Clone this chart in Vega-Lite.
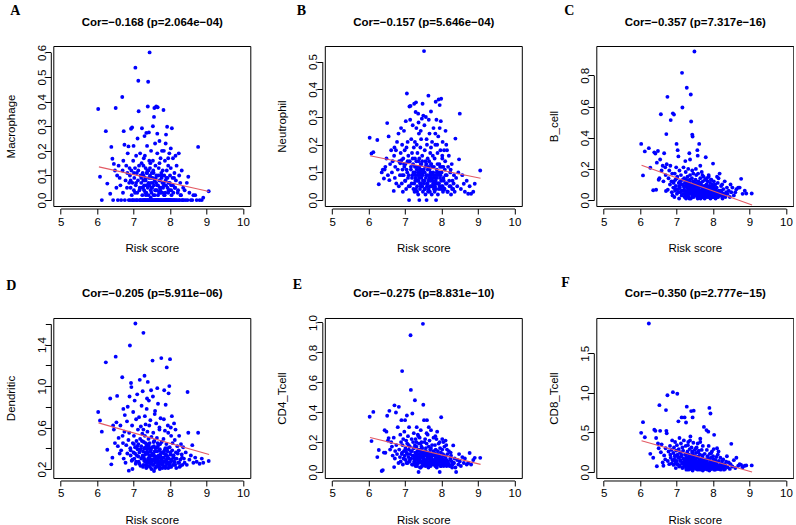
{
"$schema": "https://vega.github.io/schema/vega-lite/v6.json",
"padding": {"left": 4.3, "top": 3, "right": 0, "bottom": 0},
"background": "white",
"columns": 3,
"bounds": "flush",
"spacing": {"row": 112, "column": 74.5},
"config": {
  "font": "Liberation Sans",
  "view": {"stroke": "#000000", "strokeWidth": 1},
  "axis": {"grid": false, "domainColor": "#000000", "tickColor": "#000000", "labelColor": "#000000", "titleColor": "#000000", "labelFont": "Liberation Sans", "titleFont": "Liberation Sans", "labelFontSize": 11.5, "titleFontSize": 11.5, "titleFontWeight": "normal", "tickSize": 5.5, "offset": 2.5, "labelFlush": false, "labelOverlap": false, "domainWidth": 1, "tickWidth": 1},
  "axisBottom": {"labelPadding": 2, "titlePadding": 15, "domainDash": [0, 7.3, 182.4, 1000]},
  "axisLeft": {"labelAngle": -90, "labelAlign": "center", "labelBaseline": "alphabetic", "labelPadding": 0, "titlePadding": 20},
  "title": {"font": "Liberation Serif", "fontSize": 14, "fontWeight": "bold", "color": "#000000", "anchor": "start", "frame": "group", "offset": 0, "baseline": "alphabetic"}
},
"data": {"values": [
{"risk":6.03,"mac":0.37,"neu":0.225,"bcell":0.36,"dend":0.75,"cd4":0.37,"cd8":0.495},
{"risk":6.08,"mac":0.095,"neu":0.168,"bcell":0.158,"dend":0.668,"cd4":0.207,"cd8":0.63},
{"risk":6.13,"mac":0,"neu":0.173,"bcell":0.312,"dend":0.56,"cd4":0.402,"cd8":0.44},
{"risk":6.24,"mac":0.28,"neu":0.217,"bcell":0.333,"dend":1.229,"cd4":0.1,"cd8":1.875},
{"risk":6.28,"mac":0.067,"neu":0.057,"bcell":0.207,"dend":0.386,"cd4":0.147,"cd8":0.23},
{"risk":6.36,"mac":0.026,"neu":0.1,"bcell":0.063,"dend":0.88,"cd4":0.007,"cd8":0.18},
{"risk":6.39,"mac":0.216,"neu":0.11,"bcell":0.306,"dend":0.245,"cd4":0.013,"cd8":0.535},
{"risk":6.42,"mac":0.168,"neu":0.078,"bcell":0.298,"dend":0.309,"cd4":0.13,"cd8":0.52},
{"risk":6.44,"mac":0,"neu":0.11,"bcell":0.066,"dend":0.62,"cd4":0.28,"cd8":0.43},
{"risk":6.46,"mac":0.147,"neu":0.12,"bcell":0.24,"dend":0.58,"cd4":0.129,"cd8":0.074},
{"risk":6.49,"mac":0.12,"neu":0.15,"bcell":0.315,"dend":0.45,"cd4":0.27,"cd8":0.36},
{"risk":6.51,"mac":0.374,"neu":0.278,"bcell":0.13,"dend":1.284,"cd4":0.376,"cd8":0.3},
{"risk":6.53,"mac":0.05,"neu":0.09,"bcell":0.14,"dend":0.65,"cd4":0.21,"cd8":0.845},
{"risk":6.55,"mac":0.1,"neu":0.23,"bcell":0.26,"dend":0.905,"cd4":0.227,"cd8":0.52},
{"risk":6.57,"mac":0,"neu":0.072,"bcell":0.55,"dend":0.42,"cd4":0.409,"cd8":0.25},
{"risk":6.59,"mac":0.14,"neu":0.13,"bcell":0.19,"dend":0.5,"cd4":0.15,"cd8":0.35},
{"risk":6.62,"mac":0.09,"neu":0.18,"bcell":0.22,"dend":0.35,"cd4":0.2,"cd8":0.12},
{"risk":6.64,"mac":0.06,"neu":0.1,"bcell":0.12,"dend":0.62,"cd4":0.17,"cd8":0.08},
{"risk":6.66,"mac":0,"neu":0.14,"bcell":0.3,"dend":0.38,"cd4":0.11,"cd8":0.21},
{"risk":6.69,"mac":0.419,"neu":0.033,"bcell":0.21,"dend":1.085,"cd4":0.23,"cd8":0.16},
{"risk":6.7,"mac":0.12,"neu":0.16,"bcell":0.16,"dend":0.52,"cd4":0.033,"cd8":0.3},
{"risk":6.71,"mac":0.03,"neu":0.19,"bcell":0.058,"dend":0.45,"cd4":0.446,"cd8":0.782},
{"risk":6.72,"mac":0.16,"neu":0.08,"bcell":0.423,"dend":0.78,"cd4":0.09,"cd8":0.52},
{"risk":6.73,"mac":0.28,"neu":0.12,"bcell":0.23,"dend":0.3,"cd4":0.14,"cd8":0.49},
{"risk":6.75,"mac":0.225,"neu":0.18,"bcell":0.662,"dend":0.56,"cd4":0.398,"cd8":0.97},
{"risk":6.76,"mac":0,"neu":0.06,"bcell":0.066,"dend":0.72,"cd4":0.18,"cd8":0.14},
{"risk":6.78,"mac":0.08,"neu":0.21,"bcell":0.14,"dend":0.26,"cd4":0.12,"cd8":0.26},
{"risk":6.8,"mac":0.14,"neu":0.11,"bcell":0.19,"dend":0.43,"cd4":0.3,"cd8":0.1},
{"risk":6.82,"mac":0.05,"neu":0.24,"bcell":0.1,"dend":0.66,"cd4":0.06,"cd8":0.33},
{"risk":6.83,"mac":0.11,"neu":0.05,"bcell":0.22,"dend":0.35,"cd4":0.436,"cd8":0.22},
{"risk":6.84,"mac":0.19,"neu":0.14,"bcell":0.513,"dend":0.8,"cd4":0.15,"cd8":0.18},
{"risk":6.86,"mac":0.218,"neu":0.09,"bcell":0.12,"dend":0.48,"cd4":0.1,"cd8":0.28},
{"risk":6.87,"mac":0,"neu":0.133,"bcell":0.05,"dend":0.184,"cd4":0.25,"cd8":0.11},
{"risk":6.88,"mac":0.07,"neu":0.17,"bcell":0.17,"dend":0.55,"cd4":0.07,"cd8":0.4},
{"risk":6.89,"mac":0.13,"neu":0.26,"bcell":0.03,"dend":0.9,"cd4":0.2,"cd8":0.15},
{"risk":6.9,"mac":0.1,"neu":0.144,"bcell":0.556,"dend":1.392,"cd4":0.347,"cd8":1.009},
{"risk":6.91,"mac":0,"neu":0.06,"bcell":0.08,"dend":0.4,"cd4":0.12,"cd8":0.24},
{"risk":6.92,"mac":0.05,"neu":0.2,"bcell":0.12,"dend":0.33,"cd4":0.675,"cd8":0.09},
{"risk":6.93,"mac":0.29,"neu":0.11,"bcell":0.548,"dend":1.03,"cd4":0.18,"cd8":0.31},
{"risk":6.94,"mac":0.12,"neu":0.03,"bcell":0.02,"dend":0.99,"cd4":0.05,"cd8":0.16},
{"risk":6.95,"mac":0.02,"neu":0.15,"bcell":0.17,"dend":0.28,"cd4":0.22,"cd8":0.2},
{"risk":6.96,"mac":0.295,"neu":0.09,"bcell":0.06,"dend":0.62,"cd4":0.09,"cd8":0.38},
{"risk":6.97,"mac":0.07,"neu":0.25,"bcell":0.13,"dend":0.2,"cd4":0.14,"cd8":0.12},
{"risk":6.98,"mac":0,"neu":0.12,"bcell":0.09,"dend":0.45,"cd4":0.27,"cd8":0.05},
{"risk":6.99,"mac":0.16,"neu":0.18,"bcell":0.21,"dend":0.75,"cd4":0.11,"cd8":0.27},
{"risk":7.0,"mac":0.22,"neu":0.07,"bcell":0.36,"dend":0.36,"cd4":0.347,"cd8":0.14},
{"risk":7.01,"mac":0.04,"neu":0.13,"bcell":0.04,"dend":0.52,"cd4":0.16,"cd8":0.34},
{"risk":7.02,"mac":0.09,"neu":0.285,"bcell":0.15,"dend":0.3,"cd4":0.08,"cd8":0.988},
{"risk":7.03,"mac":0,"neu":0.04,"bcell":0.32,"dend":0.86,"cd4":0.21,"cd8":0.22},
{"risk":7.04,"mac":0.13,"neu":0.19,"bcell":0.07,"dend":0.41,"cd4":0.13,"cd8":0.1},
{"risk":7.05,"mac":0.538,"neu":0.385,"bcell":0.28,"dend":1.604,"cd4":0.378,"cd8":0.64},
{"risk":7.06,"mac":0.06,"neu":0.1,"bcell":0.11,"dend":0.25,"cd4":0.19,"cd8":0.29},
{"risk":7.07,"mac":0.18,"neu":0.21,"bcell":0.01,"dend":0.68,"cd4":0.06,"cd8":0.18},
{"risk":7.08,"mac":0,"neu":0.08,"bcell":0.19,"dend":0.47,"cd4":0.24,"cd8":0.43},
{"risk":7.09,"mac":0.11,"neu":0.16,"bcell":0.08,"dend":0.33,"cd4":0.1,"cd8":0.08},
{"risk":7.1,"mac":0.03,"neu":0.05,"bcell":0.12,"dend":0.92,"cd4":0.15,"cd8":0.25},
{"risk":7.11,"mac":0.25,"neu":0,"bcell":0.05,"dend":0.39,"cd4":0.3,"cd8":0.15},
{"risk":7.12,"mac":0.08,"neu":0.338,"bcell":0.16,"dend":0.58,"cd4":0.07,"cd8":0.36},
{"risk":7.13,"mac":0.485,"neu":0.14,"bcell":0.1,"dend":0.44,"cd4":0.17,"cd8":0.2},
{"risk":7.14,"mac":0.361,"neu":0.29,"bcell":0.03,"dend":0.27,"cd4":0.12,"cd8":0.69},
{"risk":7.15,"mac":0.14,"neu":0.34,"bcell":0.816,"dend":0.7,"cd4":0.915,"cd8":0.11},
{"risk":7.16,"mac":0,"neu":0.11,"bcell":0.594,"dend":0.36,"cd4":0.549,"cd8":0.31},
{"risk":7.17,"mac":0.05,"neu":0.22,"bcell":0.13,"dend":1.06,"cd4":0.09,"cd8":0.06},
{"risk":7.18,"mac":0.19,"neu":0.06,"bcell":0.06,"dend":0.49,"cd4":0.22,"cd8":0.27},
{"risk":7.19,"mac":0.1,"neu":0.17,"bcell":0.21,"dend":0.23,"cd4":0.14,"cd8":0.17},
{"risk":7.2,"mac":0,"neu":0.09,"bcell":0.09,"dend":0.61,"cd4":0.391,"cd8":0.4},
{"risk":7.21,"mac":0.07,"neu":0.27,"bcell":0.14,"dend":0.42,"cd4":0.05,"cd8":0.09},
{"risk":7.22,"mac":0.15,"neu":0.13,"bcell":0.02,"dend":0.81,"cd4":0.2,"cd8":0.69},
{"risk":7.23,"mac":0.292,"neu":0.04,"bcell":0.11,"dend":0.31,"cd4":0.11,"cd8":0.22},
{"risk":7.24,"mac":0.02,"neu":0.19,"bcell":0.25,"dend":0.54,"cd4":0.26,"cd8":0.13},
{"risk":7.25,"mac":0.11,"neu":0.348,"bcell":0.18,"dend":0.95,"cd4":0.16,"cd8":0.33},
{"risk":7.26,"mac":0,"neu":0.1,"bcell":0.05,"dend":0.37,"cd4":0.09,"cd8":0.625},
{"risk":7.27,"mac":0.08,"neu":0.15,"bcell":0.13,"dend":1.514,"cd4":0.48,"cd8":0.19},
{"risk":7.28,"mac":0.17,"neu":0.07,"bcell":0.72,"dend":0.46,"cd4":0.13,"cd8":0.826},
{"risk":7.29,"mac":0.04,"neu":0.318,"bcell":0.08,"dend":0.28,"cd4":0.22,"cd8":0.12},
{"risk":7.3,"mac":0.26,"neu":0.353,"bcell":0.15,"dend":1.1,"cd4":0.06,"cd8":0.26},
{"risk":7.31,"mac":0,"neu":0.12,"bcell":0.03,"dend":0.52,"cd4":0.17,"cd8":0.07},
{"risk":7.32,"mac":0.09,"neu":0.2,"bcell":0.2,"dend":0.34,"cd4":0.3,"cd8":0.38},
{"risk":7.33,"mac":0.13,"neu":0.05,"bcell":0.1,"dend":0.63,"cd4":0.1,"cd8":0.16},
{"risk":7.34,"mac":0.02,"neu":0.17,"bcell":0.06,"dend":0.24,"cd4":0.14,"cd8":0.22},
{"risk":7.35,"mac":0.273,"neu":0.09,"bcell":0.3,"dend":0.42,"cd4":0.25,"cd8":0.1},
{"risk":7.36,"mac":0.06,"neu":0.312,"bcell":0.12,"dend":0.78,"cd4":0.08,"cd8":0.29},
{"risk":7.37,"mac":0,"neu":0.14,"bcell":0.26,"dend":0.39,"cd4":0,"cd8":0.14},
{"risk":7.38,"mac":0.12,"neu":0.24,"bcell":0.04,"dend":0.56,"cd4":0.19,"cd8":0.45},
{"risk":7.39,"mac":0.38,"neu":0,"bcell":0.677,"dend":1.04,"cd4":0.12,"cd8":0.04},
{"risk":7.4,"mac":0.481,"neu":0.11,"bcell":0.504,"dend":0.3,"cd4":0.23,"cd8":0.77},
{"risk":7.41,"mac":0.07,"neu":0.06,"bcell":0.09,"dend":0.49,"cd4":0.07,"cd8":0.31},
{"risk":7.42,"mac":0.275,"neu":0.19,"bcell":0.14,"dend":0.86,"cd4":0.15,"cd8":0.18},
{"risk":7.43,"mac":0,"neu":0.13,"bcell":0.42,"dend":0.33,"cd4":0.28,"cd8":0.24},
{"risk":7.44,"mac":0.6,"neu":0.22,"bcell":0.408,"dend":0.45,"cd4":0.11,"cd8":0.69},
{"risk":7.45,"mac":0.1,"neu":0.08,"bcell":0.07,"dend":0.27,"cd4":0.2,"cd8":0.09},
{"risk":7.46,"mac":0.15,"neu":0.294,"bcell":0.17,"dend":0.67,"cd4":0.06,"cd8":0.37},
{"risk":7.47,"mac":0.04,"neu":0.16,"bcell":0.02,"dend":0.38,"cd4":0.16,"cd8":0.775},
{"risk":7.48,"mac":0.2,"neu":0.348,"bcell":0.11,"dend":0.96,"cd4":0.13,"cd8":0.2},
{"risk":7.49,"mac":0,"neu":0.1,"bcell":0.953,"dend":0.51,"cd4":0.991,"cd8":0.13},
{"risk":7.5,"mac":0.11,"neu":0.305,"bcell":0.06,"dend":0.29,"cd4":0.45,"cd8":0.28},
{"risk":7.26,"mac":0.05,"neu":0.03,"bcell":0.01,"dend":0.22,"cd4":0.05,"cd8":0.05},
{"risk":7.28,"mac":0,"neu":0.09,"bcell":0.1,"dend":0.31,"cd4":0.08,"cd8":0.15},
{"risk":7.3,"mac":0.08,"neu":0.04,"bcell":0.05,"dend":0.4,"cd4":0.11,"cd8":0.09},
{"risk":7.32,"mac":0.03,"neu":0.11,"bcell":0.07,"dend":0.27,"cd4":0.12,"cd8":0.12},
{"risk":7.33,"mac":0,"neu":0.07,"bcell":0.02,"dend":0.36,"cd4":0.04,"cd8":0.03},
{"risk":7.35,"mac":0.06,"neu":0.12,"bcell":0.09,"dend":0.21,"cd4":0.1,"cd8":0.19},
{"risk":7.36,"mac":0.11,"neu":0.02,"bcell":0.13,"dend":0.44,"cd4":0.06,"cd8":0.07},
{"risk":7.38,"mac":0,"neu":0.08,"bcell":0.06,"dend":0.26,"cd4":0.09,"cd8":0.11},
{"risk":7.39,"mac":0.05,"neu":0.15,"bcell":0.01,"dend":0.35,"cd4":0.14,"cd8":0.17},
{"risk":7.41,"mac":0.02,"neu":0.04,"bcell":0.05,"dend":0.23,"cd4":0.03,"cd8":0.06},
{"risk":7.42,"mac":0.09,"neu":0.1,"bcell":0.08,"dend":0.41,"cd4":0.1,"cd8":0.13},
{"risk":7.44,"mac":0,"neu":0.06,"bcell":0.03,"dend":0.3,"cd4":0.07,"cd8":0.02},
{"risk":7.45,"mac":0.13,"neu":0.13,"bcell":0.12,"dend":0.37,"cd4":0.17,"cd8":0.21},
{"risk":7.47,"mac":0.01,"neu":0.05,"bcell":0.04,"dend":0.25,"cd4":0.04,"cd8":0.1},
{"risk":7.48,"mac":0.07,"neu":0.09,"bcell":0.07,"dend":0.33,"cd4":0.12,"cd8":0.08},
{"risk":7.49,"mac":0.03,"neu":0.03,"bcell":0.1,"dend":0.2,"cd4":0.09,"cd8":0.14},
{"risk":7.27,"mac":0.14,"neu":0.21,"bcell":0.04,"dend":0.58,"cd4":0.18,"cd8":0.23},
{"risk":7.31,"mac":0.18,"neu":0.26,"bcell":0.11,"dend":0.71,"cd4":0.2,"cd8":0.34},
{"risk":7.37,"mac":0.22,"neu":0.28,"bcell":0.16,"dend":0.88,"cd4":0.24,"cd8":0.4},
{"risk":7.43,"mac":0.16,"neu":0.25,"bcell":0.19,"dend":0.62,"cd4":0.19,"cd8":0.26},
{"risk":7.51,"mac":0.05,"neu":0.11,"bcell":0.08,"dend":0.41,"cd4":0.1,"cd8":0.16},
{"risk":7.52,"mac":0,"neu":0.538,"bcell":0.13,"dend":1.246,"cd4":0.347,"cd8":0.05},
{"risk":7.53,"mac":0.3,"neu":0.07,"bcell":0.03,"dend":0.28,"cd4":0.14,"cd8":0.24},
{"risk":7.54,"mac":0.12,"neu":0.18,"bcell":0.16,"dend":0.55,"cd4":0.07,"cd8":0.11},
{"risk":7.55,"mac":0.02,"neu":0.04,"bcell":0.06,"dend":0.34,"cd4":0.22,"cd8":0.31},
{"risk":7.56,"mac":0.338,"neu":0.14,"bcell":0.1,"dend":0.18,"cd4":0.12,"cd8":0.08},
{"risk":7.57,"mac":0.374,"neu":0.3,"bcell":0.32,"dend":0.47,"cd4":0.16,"cd8":0.19},
{"risk":7.58,"mac":0.08,"neu":0.09,"bcell":0.285,"dend":0.73,"cd4":0.05,"cd8":0.36},
{"risk":7.59,"mac":0,"neu":0,"bcell":0.02,"dend":0.26,"cd4":0.19,"cd8":0.13},
{"risk":7.6,"mac":0.14,"neu":0.2,"bcell":0.12,"dend":0.4,"cd4":0.347,"cd8":0.06},
{"risk":7.61,"mac":0.04,"neu":0.06,"bcell":0.07,"dend":0.32,"cd4":0.09,"cd8":0.27},
{"risk":7.62,"mac":0.38,"neu":0.15,"bcell":0.36,"dend":0.64,"cd4":0.25,"cd8":0.15},
{"risk":7.63,"mac":0.1,"neu":0.03,"bcell":0.04,"dend":0.22,"cd4":0.13,"cd8":0.04},
{"risk":7.64,"mac":0,"neu":0.377,"bcell":0.09,"dend":0.5,"cd4":0.06,"cd8":0.22},
{"risk":7.65,"mac":0.19,"neu":0.12,"bcell":0.14,"dend":0.37,"cd4":0.17,"cd8":0.42},
{"risk":7.66,"mac":0.377,"neu":0.08,"bcell":0.01,"dend":0.29,"cd4":0.11,"cd8":0.09},
{"risk":7.67,"mac":0.06,"neu":0.24,"bcell":0.11,"dend":0.83,"cd4":0.21,"cd8":0.17},
{"risk":7.68,"mac":0,"neu":0.05,"bcell":0.05,"dend":0.43,"cd4":0.08,"cd8":0.12},
{"risk":7.69,"mac":0.13,"neu":0.17,"bcell":0.18,"dend":0.31,"cd4":0.15,"cd8":0.28},
{"risk":7.7,"mac":0.03,"neu":0.1,"bcell":0.03,"dend":0.24,"cd4":0.04,"cd8":0.05},
{"risk":7.71,"mac":0.24,"neu":0.32,"bcell":0.08,"dend":0.58,"cd4":0.28,"cd8":0.19},
{"risk":7.72,"mac":0.08,"neu":0.13,"bcell":0.12,"dend":0.39,"cd4":0.1,"cd8":0.33},
{"risk":7.73,"mac":0,"neu":0.02,"bcell":0.06,"dend":0.27,"cd4":0.07,"cd8":0.08},
{"risk":7.74,"mac":0.17,"neu":0.21,"bcell":0.15,"dend":0.69,"cd4":0.18,"cd8":0.14},
{"risk":7.75,"mac":0.05,"neu":0.07,"bcell":0.02,"dend":0.35,"cd4":0.12,"cd8":0.57},
{"risk":7.76,"mac":0.11,"neu":0.16,"bcell":0.09,"dend":1.27,"cd4":0.06,"cd8":0.1},
{"risk":7.77,"mac":0,"neu":0.09,"bcell":0.04,"dend":0.46,"cd4":0.14,"cd8":0.23},
{"risk":7.78,"mac":0.2,"neu":0.26,"bcell":0.13,"dend":0.3,"cd4":0.23,"cd8":0.07},
{"risk":7.79,"mac":0.07,"neu":0.04,"bcell":0.07,"dend":0.21,"cd4":0.05,"cd8":0.16},
{"risk":7.52,"mac":0.09,"neu":0.06,"bcell":0.05,"dend":0.33,"cd4":0.08,"cd8":0.12},
{"risk":7.54,"mac":0,"neu":0.1,"bcell":0.09,"dend":0.24,"cd4":0.11,"cd8":0.07},
{"risk":7.56,"mac":0.06,"neu":0.02,"bcell":0.04,"dend":0.42,"cd4":0.04,"cd8":0.18},
{"risk":7.58,"mac":0.02,"neu":0.13,"bcell":0.01,"dend":0.37,"cd4":0.13,"cd8":0.03},
{"risk":7.6,"mac":0,"neu":0.05,"bcell":0.08,"dend":0.28,"cd4":0.07,"cd8":0.1},
{"risk":7.62,"mac":0.07,"neu":0.11,"bcell":0.03,"dend":0.31,"cd4":0.1,"cd8":0.06},
{"risk":7.64,"mac":0.04,"neu":0.07,"bcell":0.06,"dend":0.23,"cd4":0.03,"cd8":0.14},
{"risk":7.66,"mac":0,"neu":0.14,"bcell":0.1,"dend":0.45,"cd4":0.12,"cd8":0.05},
{"risk":7.68,"mac":0.1,"neu":0.03,"bcell":0.02,"dend":0.26,"cd4":0.06,"cd8":0.09},
{"risk":7.7,"mac":0,"neu":0.09,"bcell":0.07,"dend":0.38,"cd4":0.09,"cd8":0.11},
{"risk":7.72,"mac":0.05,"neu":0.05,"bcell":0.04,"dend":0.2,"cd4":0.05,"cd8":0.02},
{"risk":7.74,"mac":0.03,"neu":0.12,"bcell":0.06,"dend":0.32,"cd4":0.08,"cd8":0.08},
{"risk":7.77,"mac":0.09,"neu":0.06,"bcell":0.01,"dend":0.25,"cd4":0.11,"cd8":0.04},
{"risk":7.53,"mac":0.16,"neu":0.27,"bcell":0.2,"dend":0.9,"cd4":0.2,"cd8":0.3},
{"risk":7.59,"mac":0.23,"neu":0.22,"bcell":0.17,"dend":0.76,"cd4":0.26,"cd8":0.25},
{"risk":7.65,"mac":0.27,"neu":0.29,"bcell":0.22,"dend":0.98,"cd4":0.3,"cd8":0.38},
{"risk":7.71,"mac":0.15,"neu":0.19,"bcell":0.16,"dend":0.6,"cd4":0.16,"cd8":0.21},
{"risk":7.8,"mac":0.12,"neu":0.08,"bcell":0.275,"dend":0.36,"cd4":0.13,"cd8":0.15},
{"risk":7.81,"mac":0,"neu":0.15,"bcell":0.05,"dend":0.27,"cd4":0.07,"cd8":0.09},
{"risk":7.82,"mac":0.366,"neu":0.05,"bcell":0.1,"dend":0.49,"cd4":0.18,"cd8":0.53},
{"risk":7.83,"mac":0.06,"neu":0.2,"bcell":0.02,"dend":0.31,"cd4":0.04,"cd8":0.12},
{"risk":7.84,"mac":0.1,"neu":0.355,"bcell":0.08,"dend":0.96,"cd4":0.15,"cd8":0.06},
{"risk":7.85,"mac":0,"neu":0,"bcell":0.12,"dend":0.22,"cd4":0.1,"cd8":0.2},
{"risk":7.86,"mac":0.16,"neu":0.29,"bcell":0.04,"dend":0.57,"cd4":0.22,"cd8":0.1},
{"risk":7.87,"mac":0.03,"neu":0.11,"bcell":0.07,"dend":0.4,"cd4":0.08,"cd8":0.51},
{"risk":7.88,"mac":0.08,"neu":0.06,"bcell":0.15,"dend":0.28,"cd4":0.12,"cd8":0.17},
{"risk":7.89,"mac":0.266,"neu":0.17,"bcell":0.03,"dend":0.33,"cd4":0.06,"cd8":0.08},
{"risk":7.9,"mac":0,"neu":0.09,"bcell":0.09,"dend":0.44,"cd4":0.14,"cd8":0.81},
{"risk":7.91,"mac":0.12,"neu":0.23,"bcell":0.06,"dend":1.18,"cd4":0.05,"cd8":0.23},
{"risk":7.92,"mac":0.298,"neu":0.363,"bcell":0.11,"dend":0.25,"cd4":0.19,"cd8":0.14},
{"risk":7.93,"mac":0.05,"neu":0.04,"bcell":0.01,"dend":0.37,"cd4":0.09,"cd8":0.74},
{"risk":7.94,"mac":0,"neu":0.13,"bcell":0.13,"dend":0.62,"cd4":0.11,"cd8":0.04},
{"risk":7.95,"mac":0.14,"neu":0.343,"bcell":0.05,"dend":0.3,"cd4":0,"cd8":0.18},
{"risk":7.96,"mac":0.07,"neu":0.08,"bcell":0.08,"dend":0.93,"cd4":0.16,"cd8":0.11},
{"risk":7.97,"mac":0,"neu":0.18,"bcell":0.03,"dend":0.23,"cd4":0.07,"cd8":0.26},
{"risk":7.98,"mac":0.19,"neu":0.285,"bcell":0.1,"dend":1.0,"cd4":0.13,"cd8":0.07},
{"risk":7.99,"mac":0.04,"neu":0.366,"bcell":0.06,"dend":0.41,"cd4":0.366,"cd8":0.13},
{"risk":8.0,"mac":0.1,"neu":0.1,"bcell":0.234,"dend":1.26,"cd4":0.1,"cd8":0.2},
{"risk":8.01,"mac":0,"neu":0.05,"bcell":0.02,"dend":0.34,"cd4":0.06,"cd8":0.05},
{"risk":8.02,"mac":0.13,"neu":0.15,"bcell":0.09,"dend":0.27,"cd4":0.15,"cd8":0.16},
{"risk":8.03,"mac":0.06,"neu":0.21,"bcell":0.05,"dend":0.52,"cd4":0.08,"cd8":0.47},
{"risk":8.04,"mac":0.02,"neu":0.03,"bcell":0.07,"dend":0.29,"cd4":0.12,"cd8":0.09},
{"risk":8.05,"mac":0.292,"neu":0.12,"bcell":0.04,"dend":0.71,"cd4":0.2,"cd8":0.12},
{"risk":8.06,"mac":0,"neu":0.07,"bcell":0.1,"dend":0.38,"cd4":0.04,"cd8":0.03},
{"risk":8.07,"mac":0.09,"neu":0.18,"bcell":0.01,"dend":0.45,"cd4":0.11,"cd8":0.15},
{"risk":8.08,"mac":0.17,"neu":0.04,"bcell":0.06,"dend":0.24,"cd4":0.17,"cd8":0.08},
{"risk":8.09,"mac":0.03,"neu":0.11,"bcell":0.03,"dend":0.31,"cd4":0.07,"cd8":0.19},
{"risk":7.81,"mac":0.05,"neu":0.03,"bcell":0.03,"dend":0.26,"cd4":0.05,"cd8":0.04},
{"risk":7.84,"mac":0.02,"neu":0.07,"bcell":0.06,"dend":0.35,"cd4":0.09,"cd8":0.1},
{"risk":7.87,"mac":0,"neu":0.1,"bcell":0.02,"dend":0.21,"cd4":0.03,"cd8":0.07},
{"risk":7.9,"mac":0.09,"neu":0.02,"bcell":0.05,"dend":0.29,"cd4":0.1,"cd8":0.02},
{"risk":7.93,"mac":0,"neu":0.06,"bcell":0.04,"dend":0.32,"cd4":0.06,"cd8":0.09},
{"risk":7.96,"mac":0.04,"neu":0.12,"bcell":0.02,"dend":0.26,"cd4":0.08,"cd8":0.05},
{"risk":7.99,"mac":0,"neu":0.04,"bcell":0.07,"dend":0.22,"cd4":0.04,"cd8":0.06},
{"risk":7.83,"mac":0.2,"neu":0.24,"bcell":0.14,"dend":0.68,"cd4":0.24,"cd8":0.28},
{"risk":7.88,"mac":0.23,"neu":0.2,"bcell":0.16,"dend":0.82,"cd4":0.27,"cd8":0.33},
{"risk":7.95,"mac":0.17,"neu":0.26,"bcell":0.13,"dend":0.55,"cd4":0.2,"cd8":0.24},
{"risk":8.02,"mac":0.21,"neu":0.16,"bcell":0.12,"dend":0.6,"cd4":0.22,"cd8":0.29},
{"risk":8.1,"mac":0,"neu":0.14,"bcell":0.08,"dend":0.33,"cd4":0.1,"cd8":0.12},
{"risk":8.12,"mac":0.11,"neu":0.06,"bcell":0.04,"dend":0.27,"cd4":0.05,"cd8":0.06},
{"risk":8.13,"mac":0.05,"neu":0.2,"bcell":0.11,"dend":0.48,"cd4":0.18,"cd8":0.22},
{"risk":8.14,"mac":0,"neu":0.09,"bcell":0.02,"dend":0.24,"cd4":0.08,"cd8":0.04},
{"risk":8.16,"mac":0.08,"neu":0.03,"bcell":0.06,"dend":0.36,"cd4":0.12,"cd8":0.14},
{"risk":8.18,"mac":0.14,"neu":0.12,"bcell":0.17,"dend":0.3,"cd4":0.06,"cd8":0.09},
{"risk":8.2,"mac":0,"neu":0.16,"bcell":0.03,"dend":0.42,"cd4":0.14,"cd8":0.18},
{"risk":8.22,"mac":0.04,"neu":0.05,"bcell":0.09,"dend":0.26,"cd4":0.04,"cd8":0.05},
{"risk":8.24,"mac":0.19,"neu":0.1,"bcell":0.05,"dend":0.38,"cd4":0.09,"cd8":0.11},
{"risk":8.26,"mac":0,"neu":0.02,"bcell":0.01,"dend":0.22,"cd4":0.11,"cd8":0.07},
{"risk":8.28,"mac":0.07,"neu":0.13,"bcell":0.07,"dend":0.29,"cd4":0.07,"cd8":0.16},
{"risk":8.3,"mac":0.02,"neu":0.07,"bcell":0.03,"dend":0.44,"cd4":0.05,"cd8":0.03},
{"risk":8.32,"mac":0.12,"neu":0.04,"bcell":0.12,"dend":0.34,"cd4":0.178,"cd8":0.1},
{"risk":8.34,"mac":0,"neu":0.09,"bcell":0.02,"dend":0.24,"cd4":0.06,"cd8":0.08},
{"risk":8.36,"mac":0.05,"neu":0.03,"bcell":0.05,"dend":0.41,"cd4":0.09,"cd8":0.13},
{"risk":8.38,"mac":0,"neu":0.222,"bcell":0.08,"dend":0.3,"cd4":0.03,"cd8":0.2},
{"risk":8.15,"mac":0.18,"neu":0.18,"bcell":0.14,"dend":0.58,"cd4":0.15,"cd8":0.26},
{"risk":8.25,"mac":0.1,"neu":0.11,"bcell":0.1,"dend":0.52,"cd4":0.13,"cd8":0.14},
{"risk":8.11,"mac":0.09,"neu":0.25,"bcell":0.15,"dend":0.64,"cd4":0.21,"cd8":0.3},
{"risk":8.4,"mac":0.04,"neu":0.08,"bcell":0.04,"dend":0.26,"cd4":0,"cd8":0.06},
{"risk":8.43,"mac":0,"neu":0.05,"bcell":0.06,"dend":0.36,"cd4":0.08,"cd8":0.12},
{"risk":8.46,"mac":0.07,"neu":0.1,"bcell":0.02,"dend":0.24,"cd4":0.05,"cd8":0.04},
{"risk":8.48,"mac":0,"neu":0.147,"bcell":0.1,"dend":0.943,"cd4":0.12,"cd8":0.1},
{"risk":8.5,"mac":0.095,"neu":0.312,"bcell":0.05,"dend":0.55,"cd4":0.07,"cd8":0.356},
{"risk":8.53,"mac":0.03,"neu":0.04,"bcell":0.08,"dend":0.29,"cd4":0.04,"cd8":0.07},
{"risk":8.57,"mac":0,"neu":0.09,"bcell":0.03,"dend":0.33,"cd4":0.1,"cd8":0.15},
{"risk":8.61,"mac":0,"neu":0.059,"bcell":0.05,"dend":0.43,"cd4":0.06,"cd8":0.05},
{"risk":8.64,"mac":0.02,"neu":0.03,"bcell":0.07,"dend":0.26,"cd4":0.09,"cd8":0.18},
{"risk":8.69,"mac":0.02,"neu":0.07,"bcell":0.08,"dend":0.31,"cd4":0.05,"cd8":0.08},
{"risk":8.73,"mac":0,"neu":0.023,"bcell":0.08,"dend":0.27,"cd4":0.06,"cd8":0.1},
{"risk":8.77,"mac":0.216,"neu":0.05,"bcell":0.136,"dend":0.55,"cd4":0.127,"cd8":0.09},
{"risk":8.81,"mac":0,"neu":0.023,"bcell":0.04,"dend":0.25,"cd4":0.05,"cd8":0.06},
{"risk":8.87,"mac":0,"neu":0.03,"bcell":0.06,"dend":0.3,"cd4":0.08,"cd8":0.08},
{"risk":8.91,"mac":0.01,"neu":0.059,"bcell":0.042,"dend":0.26,"cd4":0.095,"cd8":0.084},
{"risk":9.06,"mac":0.036,"neu":0.107,"bcell":0.042,"dend":0.277,"cd4":0.095,"cd8":0.084},
{"risk":6.92,"mac":0.08,"neu":0.09,"bcell":0.11,"dend":0.38,"cd4":0.13,"cd8":0.15},
{"risk":6.97,"mac":0,"neu":0.13,"bcell":0.07,"dend":0.29,"cd4":0.09,"cd8":0.21},
{"risk":7.01,"mac":0.11,"neu":0.07,"bcell":0.14,"dend":0.44,"cd4":0.15,"cd8":0.1},
{"risk":7.04,"mac":0.03,"neu":0.11,"bcell":0.05,"dend":0.35,"cd4":0.06,"cd8":0.18},
{"risk":7.07,"mac":0.07,"neu":0.14,"bcell":0.09,"dend":0.27,"cd4":0.12,"cd8":0.07},
{"risk":7.1,"mac":0,"neu":0.09,"bcell":0.12,"dend":0.42,"cd4":0.18,"cd8":0.14},
{"risk":7.13,"mac":0.12,"neu":0.05,"bcell":0.06,"dend":0.32,"cd4":0.08,"cd8":0.22},
{"risk":7.16,"mac":0.04,"neu":0.12,"bcell":0.1,"dend":0.25,"cd4":0.14,"cd8":0.05},
{"risk":7.19,"mac":0,"neu":0.08,"bcell":0.04,"dend":0.39,"cd4":0.05,"cd8":0.12},
{"risk":7.21,"mac":0.09,"neu":0.15,"bcell":0.08,"dend":0.3,"cd4":0.11,"cd8":0.16},
{"risk":7.23,"mac":0.05,"neu":0.1,"bcell":0.06,"dend":0.47,"cd4":0.16,"cd8":0.08},
{"risk":7.25,"mac":0,"neu":0.06,"bcell":0.03,"dend":0.33,"cd4":0.07,"cd8":0.11},
{"risk":7.27,"mac":0.1,"neu":0.12,"bcell":0.09,"dend":0.24,"cd4":0.1,"cd8":0.03},
{"risk":7.29,"mac":0.06,"neu":0.08,"bcell":0.11,"dend":0.4,"cd4":0.04,"cd8":0.17},
{"risk":7.31,"mac":0,"neu":0.14,"bcell":0.06,"dend":0.29,"cd4":0.13,"cd8":0.09},
{"risk":7.33,"mac":0.08,"neu":0.03,"bcell":0.04,"dend":0.45,"cd4":0.09,"cd8":0.13},
{"risk":7.35,"mac":0.03,"neu":0.1,"bcell":0.01,"dend":0.23,"cd4":0.06,"cd8":0.05},
{"risk":7.37,"mac":0.11,"neu":0.07,"bcell":0.08,"dend":0.36,"cd4":0.15,"cd8":0.2},
{"risk":7.39,"mac":0,"neu":0.12,"bcell":0.05,"dend":0.28,"cd4":0.08,"cd8":0.08},
{"risk":7.41,"mac":0.12,"neu":0.09,"bcell":0.1,"dend":0.43,"cd4":0.11,"cd8":0.15},
{"risk":7.43,"mac":0.06,"neu":0.05,"bcell":0.02,"dend":0.31,"cd4":0.03,"cd8":0.04},
{"risk":7.45,"mac":0,"neu":0.11,"bcell":0.06,"dend":0.22,"cd4":0.13,"cd8":0.12},
{"risk":7.47,"mac":0.09,"neu":0.14,"bcell":0.09,"dend":0.39,"cd4":0.07,"cd8":0.07},
{"risk":7.49,"mac":0.05,"neu":0.07,"bcell":0.03,"dend":0.27,"cd4":0.1,"cd8":0.16},
{"risk":7.51,"mac":0,"neu":0.1,"bcell":0.07,"dend":0.35,"cd4":0.05,"cd8":0.1},
{"risk":7.53,"mac":0.07,"neu":0.04,"bcell":0.11,"dend":0.24,"cd4":0.12,"cd8":0.04},
{"risk":7.55,"mac":0.11,"neu":0.12,"bcell":0.04,"dend":0.46,"cd4":0.08,"cd8":0.14},
{"risk":7.57,"mac":0,"neu":0.08,"bcell":0.02,"dend":0.3,"cd4":0.14,"cd8":0.08},
{"risk":7.59,"mac":0.04,"neu":0.13,"bcell":0.08,"dend":0.21,"cd4":0.06,"cd8":0.19},
{"risk":7.61,"mac":0.09,"neu":0.06,"bcell":0.05,"dend":0.37,"cd4":0.11,"cd8":0.06},
{"risk":7.63,"mac":0,"neu":0.09,"bcell":0.1,"dend":0.28,"cd4":0.04,"cd8":0.12},
{"risk":7.65,"mac":0.06,"neu":0.04,"bcell":0.03,"dend":0.41,"cd4":0.09,"cd8":0.03},
{"risk":7.67,"mac":0.02,"neu":0.11,"bcell":0.06,"dend":0.25,"cd4":0.13,"cd8":0.1},
{"risk":7.69,"mac":0,"neu":0.07,"bcell":0.09,"dend":0.33,"cd4":0.07,"cd8":0.15},
{"risk":7.71,"mac":0.08,"neu":0.13,"bcell":0.02,"dend":0.22,"cd4":0.1,"cd8":0.07},
{"risk":7.73,"mac":0.04,"neu":0.08,"bcell":0.05,"dend":0.44,"cd4":0.05,"cd8":0.13},
{"risk":7.75,"mac":0,"neu":0.05,"bcell":0.08,"dend":0.29,"cd4":0.12,"cd8":0.04},
{"risk":7.77,"mac":0.1,"neu":0.1,"bcell":0.03,"dend":0.36,"cd4":0.08,"cd8":0.09},
{"risk":7.79,"mac":0.03,"neu":0.12,"bcell":0.06,"dend":0.24,"cd4":0.06,"cd8":0.12},
{"risk":7.81,"mac":0,"neu":0.06,"bcell":0.09,"dend":0.31,"cd4":0.11,"cd8":0.06},
{"risk":7.83,"mac":0.07,"neu":0.09,"bcell":0.04,"dend":0.27,"cd4":0.07,"cd8":0.14},
{"risk":7.85,"mac":0.02,"neu":0.04,"bcell":0.07,"dend":0.38,"cd4":0.04,"cd8":0.03},
{"risk":7.87,"mac":0,"neu":0.08,"bcell":0.03,"dend":0.23,"cd4":0.09,"cd8":0.09},
{"risk":7.89,"mac":0.06,"neu":0.13,"bcell":0.05,"dend":0.34,"cd4":0.12,"cd8":0.05},
{"risk":7.91,"mac":0,"neu":0.06,"bcell":0.02,"dend":0.26,"cd4":0.05,"cd8":0.11},
{"risk":7.93,"mac":0.09,"neu":0.1,"bcell":0.08,"dend":0.4,"cd4":0.08,"cd8":0.07},
{"risk":7.95,"mac":0.03,"neu":0.05,"bcell":0.03,"dend":0.21,"cd4":0.1,"cd8":0.04},
{"risk":7.97,"mac":0,"neu":0.09,"bcell":0.06,"dend":0.3,"cd4":0.04,"cd8":0.1},
{"risk":7.99,"mac":0.07,"neu":0.07,"bcell":0.02,"dend":0.25,"cd4":0.07,"cd8":0.06},
{"risk":8.01,"mac":0,"neu":0.12,"bcell":0.05,"dend":0.36,"cd4":0.09,"cd8":0.08},
{"risk":8.03,"mac":0.04,"neu":0.05,"bcell":0.08,"dend":0.22,"cd4":0.05,"cd8":0.03},
{"risk":8.05,"mac":0,"neu":0.08,"bcell":0.03,"dend":0.28,"cd4":0.08,"cd8":0.1},
{"risk":8.08,"mac":0.06,"neu":0.04,"bcell":0.06,"dend":0.33,"cd4":0.06,"cd8":0.05},
{"risk":8.11,"mac":0,"neu":0.09,"bcell":0.02,"dend":0.24,"cd4":0.1,"cd8":0.08},
{"risk":8.14,"mac":0.05,"neu":0.06,"bcell":0.05,"dend":0.3,"cd4":0.04,"cd8":0.04},
{"risk":8.17,"mac":0,"neu":0.03,"bcell":0.03,"dend":0.21,"cd4":0.07,"cd8":0.07},
{"risk":8.21,"mac":0.03,"neu":0.07,"bcell":0.06,"dend":0.35,"cd4":0.05,"cd8":0.03},
{"risk":8.25,"mac":0,"neu":0.05,"bcell":0.02,"dend":0.26,"cd4":0.08,"cd8":0.06},
{"risk":8.29,"mac":0.02,"neu":0.04,"bcell":0.04,"dend":0.23,"cd4":0.03,"cd8":0.05},
{"risk":8.33,"mac":0,"neu":0.06,"bcell":0.03,"dend":0.31,"cd4":0.06,"cd8":0.04}
]},
"concat": [
{"width": 197, "height": 160,
 "title": {"text": "A", "dx": -43, "dy": 6},
 "layer": [
  {"mark": {"type": "circle", "size": 15, "color": "#0000FF", "opacity": 1},
   "encoding": {
    "x": {"field": "risk", "type": "quantitative", "scale": {"domain": [4.8, 10.2], "nice": false, "zero": false}, "axis": {"orient": "bottom", "title": "Risk score", "values": [5,6,7,8,9,10], "tickCount": 20, "format": "d", "labelOverlap": false}},
    "y": {"field": "mac", "type": "quantitative", "scale": {"domain": [-0.024, 0.626], "nice": false, "zero": false}, "axis": {"title": "Macrophage", "values": [0,0.1,0.2,0.3,0.4,0.5,0.6], "tickCount": 20, "format": ".1f", "labelOverlap": false, "domainDash": [0,5.9,147.7,1000]}}}},
  {"data": {"values": [{"risk": 6.05, "mac": 0.135}, {"risk": 9.07, "mac": 0.035}]},
   "mark": {"type": "line", "color": "#E35A64", "strokeWidth": 1.1, "clip": true},
   "encoding": {
    "x": {"field": "risk", "type": "quantitative", "axis": {"orient": "top", "title": "Cor=−0.168 (p=2.064e−04)", "labels": false, "ticks": false, "domain": false, "offset": 0, "titlePadding": 21, "titleBaseline": "alphabetic", "titleFontWeight": "bold", "titleAnchor": "middle"}},
    "y": {"field": "mac", "type": "quantitative"}}}
 ]},
{"width": 197, "height": 160,
 "title": {"text": "B", "dx": -28, "dy": 6},
 "layer": [
  {"mark": {"type": "circle", "size": 15, "color": "#0000FF", "opacity": 1},
   "encoding": {
    "x": {"field": "risk", "type": "quantitative", "scale": {"domain": [4.8, 10.2], "nice": false, "zero": false}, "axis": {"orient": "bottom", "title": "Risk score", "values": [5,6,7,8,9,10], "tickCount": 20, "format": "d", "labelOverlap": false}},
    "y": {"field": "neu", "type": "quantitative", "scale": {"domain": [-0.0214, 0.5564], "nice": false, "zero": false}, "axis": {"title": "Neutrophil", "values": [0,0.1,0.2,0.3,0.4,0.5], "tickCount": 20, "format": ".1f", "labelOverlap": false, "domainDash": [0,5.9,138.5,1000]}}}},
  {"data": {"values": [{"risk": 6.04, "neu": 0.16}, {"risk": 9.07, "neu": 0.079}]},
   "mark": {"type": "line", "color": "#E35A64", "strokeWidth": 1.1, "clip": true},
   "encoding": {
    "x": {"field": "risk", "type": "quantitative", "axis": {"orient": "top", "title": "Cor=−0.157 (p=5.646e−04)", "labels": false, "ticks": false, "domain": false, "offset": 0, "titlePadding": 21, "titleBaseline": "alphabetic", "titleFontWeight": "bold", "titleAnchor": "middle"}},
    "y": {"field": "neu", "type": "quantitative"}}}
 ]},
{"width": 197, "height": 160,
 "title": {"text": "C", "dx": -32, "dy": 6},
 "layer": [
  {"mark": {"type": "circle", "size": 15, "color": "#0000FF", "opacity": 1},
   "encoding": {
    "x": {"field": "risk", "type": "quantitative", "scale": {"domain": [4.8, 10.2], "nice": false, "zero": false}, "axis": {"orient": "bottom", "title": "Risk score", "values": [5,6,7,8,9,10], "tickCount": 20, "format": "d", "labelOverlap": false}},
    "y": {"field": "bcell", "type": "quantitative", "scale": {"domain": [-0.038, 0.988], "nice": false, "zero": false}, "axis": {"title": "B_cell", "values": [0,0.2,0.4,0.6,0.8], "tickCount": 20, "format": ".1f", "labelOverlap": false, "domainDash": [0,5.9,124.8,1000]}}}},
  {"data": {"values": [{"risk": 6.04, "bcell": 0.223}, {"risk": 9.07, "bcell": -0.031}]},
   "mark": {"type": "line", "color": "#E35A64", "strokeWidth": 1.1, "clip": true},
   "encoding": {
    "x": {"field": "risk", "type": "quantitative", "axis": {"orient": "top", "title": "Cor=−0.357 (p=7.317e−16)", "labels": false, "ticks": false, "domain": false, "offset": 0, "titlePadding": 21, "titleBaseline": "alphabetic", "titleFontWeight": "bold", "titleAnchor": "middle"}},
    "y": {"field": "bcell", "type": "quantitative"}}}
 ]},
{"width": 197, "height": 160,
 "title": {"text": "D", "dx": -47, "dy": 9},
 "layer": [
  {"mark": {"type": "circle", "size": 15, "color": "#0000FF", "opacity": 1},
   "encoding": {
    "x": {"field": "risk", "type": "quantitative", "scale": {"domain": [4.8, 10.2], "nice": false, "zero": false}, "axis": {"orient": "bottom", "title": "Risk score", "values": [5,6,7,8,9,10], "tickCount": 20, "format": "d", "labelOverlap": false}},
    "y": {"field": "dend", "type": "quantitative", "scale": {"domain": [0.113, 1.657], "nice": false, "zero": false}, "axis": {"title": "Dendritic", "values": [0.2,0.4,0.6,0.8,1.0,1.2,1.4,1.6], "tickCount": 20, "format": ".1f", "labelOverlap": false, "labelExpr": "round(datum.value*10) % 4 == 2 ? datum.label : ''", "domainDash": [0,9.0,145.1,1000]}}}},
  {"data": {"values": [{"risk": 6.04, "dend": 0.645}, {"risk": 9.07, "dend": 0.34}]},
   "mark": {"type": "line", "color": "#E35A64", "strokeWidth": 1.1, "clip": true},
   "encoding": {
    "x": {"field": "risk", "type": "quantitative", "axis": {"orient": "top", "title": "Cor=−0.205 (p=5.911e−06)", "labels": false, "ticks": false, "domain": false, "offset": 0, "titlePadding": 21, "titleBaseline": "alphabetic", "titleFontWeight": "bold", "titleAnchor": "middle"}},
    "y": {"field": "dend", "type": "quantitative"}}}
 ]},
{"width": 197, "height": 160,
 "title": {"text": "E", "dx": -32, "dy": 8},
 "layer": [
  {"mark": {"type": "circle", "size": 15, "color": "#0000FF", "opacity": 1},
   "encoding": {
    "x": {"field": "risk", "type": "quantitative", "scale": {"domain": [4.8, 10.2], "nice": false, "zero": false}, "axis": {"orient": "bottom", "title": "Risk score", "values": [5,6,7,8,9,10], "tickCount": 20, "format": "d", "labelOverlap": false}},
    "y": {"field": "cd4", "type": "quantitative", "scale": {"domain": [-0.04, 1.03], "nice": false, "zero": false}, "axis": {"title": "CD4_Tcell", "values": [0,0.2,0.4,0.6,0.8,1.0], "tickCount": 20, "format": ".1f", "labelOverlap": false, "domainDash": [0,6.0,149.5,1000]}}}},
  {"data": {"values": [{"risk": 6.04, "cd4": 0.231}, {"risk": 9.07, "cd4": 0.051}]},
   "mark": {"type": "line", "color": "#E35A64", "strokeWidth": 1.1, "clip": true},
   "encoding": {
    "x": {"field": "risk", "type": "quantitative", "axis": {"orient": "top", "title": "Cor=−0.275 (p=8.831e−10)", "labels": false, "ticks": false, "domain": false, "offset": 0, "titlePadding": 21, "titleBaseline": "alphabetic", "titleFontWeight": "bold", "titleAnchor": "middle"}},
    "y": {"field": "cd4", "type": "quantitative"}}}
 ]},
{"width": 197, "height": 160,
 "title": {"text": "F", "dx": -35, "dy": 6},
 "layer": [
  {"mark": {"type": "circle", "size": 15, "color": "#0000FF", "opacity": 1},
   "encoding": {
    "x": {"field": "risk", "type": "quantitative", "scale": {"domain": [4.8, 10.2], "nice": false, "zero": false}, "axis": {"orient": "bottom", "title": "Risk score", "values": [5,6,7,8,9,10], "tickCount": 20, "format": "d", "labelOverlap": false}},
    "y": {"field": "cd8", "type": "quantitative", "scale": {"domain": [-0.075, 1.945], "nice": false, "zero": false}, "axis": {"title": "CD8_Tcell", "values": [0,0.5,1.0,1.5], "tickCount": 20, "format": ".1f", "labelOverlap": false, "domainDash": [0,5.9,118.9,1000]}}}},
  {"data": {"values": [{"risk": 6.04, "cd8": 0.395}, {"risk": 9.07, "cd8": 0.0}]},
   "mark": {"type": "line", "color": "#E35A64", "strokeWidth": 1.1, "clip": true},
   "encoding": {
    "x": {"field": "risk", "type": "quantitative", "axis": {"orient": "top", "title": "Cor=−0.350 (p=2.777e−15)", "labels": false, "ticks": false, "domain": false, "offset": 0, "titlePadding": 21, "titleBaseline": "alphabetic", "titleFontWeight": "bold", "titleAnchor": "middle"}},
    "y": {"field": "cd8", "type": "quantitative"}}}
 ]}
]
}
